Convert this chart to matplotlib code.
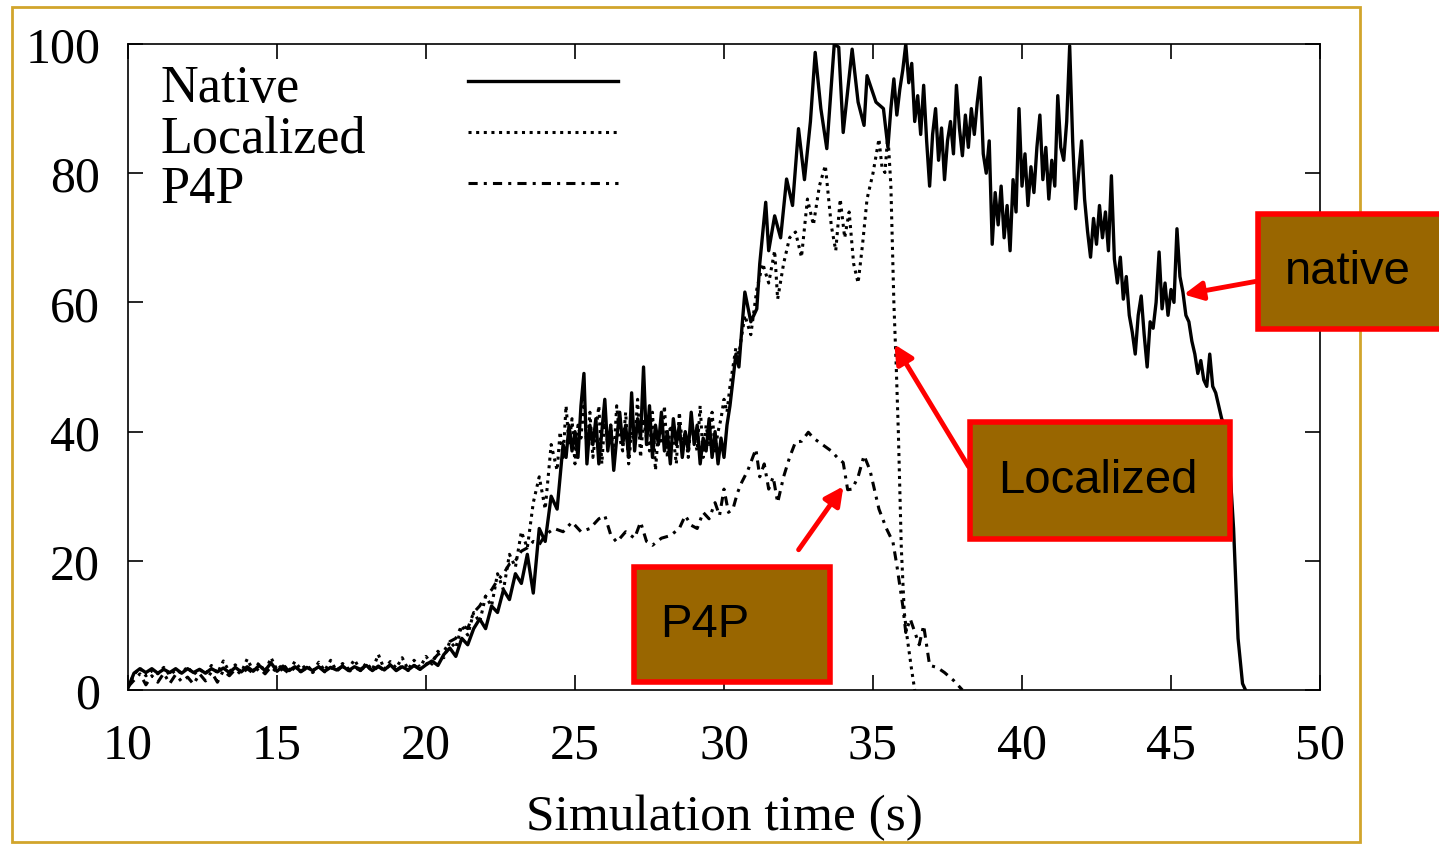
import numpy as np
import matplotlib.pyplot as plt
from matplotlib.patches import Rectangle, FancyArrowPatch

# -------------------------------
# Werte
# -------------------------------
# 10.0 .. 20.0 s, alle 0.2 s
native_flat = [0.3, 2.6, 3.3, 2.7, 3.3, 2.6, 3.2, 2.7, 3.3, 2.6, 3.3,
               2.7, 3.2, 2.6, 3.3, 2.8, 3.4, 2.7, 3.5, 2.8, 3.6,
               2.9, 3.8, 3.0, 4.2, 2.9, 3.7, 3.0, 3.6, 2.9, 3.5,
               3.0, 3.6, 2.9, 3.5, 3.1, 3.7, 3.0, 3.6, 3.2, 3.8,
               3.0, 3.7, 3.1, 3.9, 3.0, 3.6, 3.1, 3.8, 3.2, 3.9]
localized_flat = [0.5, 2.4, 3.4, 2.2, 3.0, 2.5, 3.5, 2.3, 3.1, 2.6, 3.6,
                  2.4, 3.2, 2.5, 3.8, 2.6, 4.5, 2.8, 3.9, 2.7, 4.8,
                  3.0, 4.2, 2.8, 5.0, 3.1, 4.0, 2.9, 4.4, 3.2, 3.9,
                  2.8, 4.3, 3.0, 4.6, 2.9, 4.1, 3.3, 4.7, 3.0, 4.2,
                  3.1, 5.5, 3.2, 4.4, 3.4, 5.0, 3.2, 4.6, 3.5, 5.2]
p4p_flat = [0.5, 1.5, 2.5, 0.8, 2.2, 1.2, 2.6, 1.0, 2.4, 1.3, 2.0,
            0.9, 2.5, 1.4, 2.8, 1.2, 3.0, 2.2, 3.2, 2.4, 3.3,
            2.6, 3.4, 2.5, 3.6, 2.7, 3.3, 2.6, 3.5, 2.8, 3.4,
            2.7, 3.6, 2.8, 3.5, 2.9, 3.7, 2.8, 3.5, 3.0, 3.8,
            2.9, 3.6, 3.0, 3.9, 3.1, 3.7, 3.0, 3.8, 3.2, 4.0]

# Anstieg ab 20.2 s, alle 0.2 s
native_ramp = [4.5, 3.8, 5.5, 6.5, 5.2, 8.0, 7.0, 9.5, 11.0, 9.5, 13.0,
               12.0, 15.5, 14.0, 18.0, 16.5, 21.0, 15.0, 25.0, 23.0, 30.0, 28.0]
localized_ramp = [4.0, 6.0, 5.0, 7.5, 6.5, 10.0, 8.5, 12.0, 10.5, 14.5, 13.0,
                  18.0, 15.5, 21.0, 19.0, 24.5, 22.0, 29.0, 33.0, 28.0, 38.0, 34.0]
p4p_ramp = [4.5, 5.5, 6.0, 7.5, 8.0, 10.0, 9.5, 12.0, 13.0, 14.5,
            15.5, 17.0, 18.0, 19.5, 20.0, 21.5, 22.0, 23.0, 22.5, 24.0]

# Plateau 24.5 .. 30.4 s, alle 0.1 s
native_plateau = [33, 38, 36, 41, 37, 40, 36, 44, 49, 35,
                  41, 38, 42, 35, 40, 45, 37, 41, 34, 39,
                  43, 38, 41, 36, 46, 37, 42, 39, 50, 38,
                  44, 36, 41, 38, 43, 37, 40, 35, 42, 38,
                  41, 36, 40, 37, 43, 38, 41, 35, 39, 37,
                  42, 36, 40, 35, 39, 36, 41, 44, 48, 52]
localized_plateau = [40, 36, 44, 38, 42, 35, 41, 39, 45, 37,
                     43, 36, 40, 44, 35, 42, 38, 41, 36, 44,
                     39, 37, 43, 35, 40, 38, 45, 36, 42, 39,
                     37, 43, 34, 40, 38, 44, 36, 41, 39, 35,
                     43, 38, 40, 36, 42, 39, 37, 44, 36, 41,
                     38, 43, 37, 40, 42, 45, 43, 47, 50, 53]

# Native: Spitze 30.5 .. 35.35 s (unregelmaessig)
native_peak_t = [30.5, 30.6, 30.7, 30.9, 31.1, 31.2, 31.4, 31.5, 31.7, 31.9,
                 32.1, 32.3, 32.5, 32.7, 32.9, 33.06, 33.25, 33.45, 33.7, 33.85,
                 34.0, 34.3, 34.5, 34.7, 34.8, 35.1, 35.35]
native_peak_v = [50, 56, 61.6, 57, 59, 66, 75.5, 68, 73.4, 70,
                 79.1, 75, 86.9, 79, 88, 98.7, 90, 83.8, 100, 99.5,
                 86.3, 99.2, 91, 87.4, 95.1, 91, 90]
# Native: Abfall 35.5 .. 46.9 s, alle 0.1 s
native_decay = [84, 90, 94.6, 89, 93, 96, 100, 94, 97, 88,
                92, 86, 93.6, 85, 78, 86, 90, 82, 87, 79,
                85, 88, 83, 93.6, 87, 82.7, 89, 84, 90, 86,
                91, 94.8, 83, 80, 85, 69, 77, 72, 78, 70,
                75, 68, 79, 74, 90, 78, 83, 75, 81, 77,
                84, 89, 79, 84, 76, 82, 78, 92, 84, 82,
                88, 99.7, 85, 74.5, 80, 85, 76, 71, 67, 73,
                69, 75, 70, 74, 68, 79.6, 66.7, 63, 67, 60.5,
                64, 58, 55.4, 52, 58, 61, 55, 50, 57, 56,
                60, 67.8, 59, 63, 58, 62, 60, 71.4, 64, 61.6,
                58, 57, 54, 52, 49, 51, 48, 47, 52, 47,
                46, 44, 42, 41, 40]
native_end_t = [47.1, 47.25, 47.4, 47.5]
native_end_v = [25, 8, 1, 0]

localized_tail_t = [30.5, 30.7, 30.9, 31.1, 31.3, 31.5, 31.7, 31.8, 32.0, 32.2,
                    32.4, 32.6, 32.8, 33.0, 33.2, 33.4, 33.6, 33.75, 33.9, 34.05,
                    34.2, 34.35, 34.5, 34.65, 34.8, 35.0, 35.2, 35.3, 35.4, 35.5,
                    35.6, 35.7, 35.78, 35.85, 35.95, 36.05, 36.15, 36.3, 36.4]
localized_tail_v = [52, 58, 55, 62, 66, 63, 68, 60.5, 66, 70,
                    70.9, 67, 76, 72, 78, 81.2, 71.9, 68, 76, 70,
                    74, 66, 63, 69, 76, 80, 85.3, 81, 80.1, 86,
                    78, 60, 50, 40, 22, 12, 8, 3, 0]
p4p_tail_t = [24.3, 24.6, 24.9, 25.2, 25.5, 25.8, 26.0, 26.2, 26.4, 26.7,
              27.0, 27.2, 27.4, 27.6, 27.9, 28.2, 28.5, 28.7, 28.9, 29.1,
              29.3, 29.5, 29.7, 29.85, 30.0, 30.15, 30.3, 30.45, 30.6, 30.8,
              31.07, 31.2, 31.35, 31.5, 31.65, 31.8, 32.0, 32.2, 32.4, 32.6,
              32.83, 33.0, 33.3, 33.6, 33.8, 34.0, 34.15, 34.3, 34.5, 34.7,
              34.9, 35.2, 35.45, 35.67, 35.8, 36.0, 36.1, 36.25, 36.4, 36.55,
              36.7, 36.9, 37.15, 37.4, 37.7, 38.0]
p4p_tail_v = [25, 24.5, 26, 24.5, 25, 26.5, 27, 24, 22.9, 24.5,
              23.5, 26, 23, 22.4, 23.5, 23.9, 25, 27, 25.5, 25,
              27.5, 26.5, 29, 27, 31.1, 27.5, 28, 30.5, 32.2, 34,
              37.3, 33, 35, 31.1, 33, 29, 33, 36, 38.4, 38.5,
              39.9, 39, 38, 37, 36, 35.2, 31, 31.1, 33, 36.3,
              34, 28, 25, 22.9, 19.3, 13, 8.9, 11, 9, 7,
              10, 3.8, 3.5, 2.7, 1.5, 0]

labels = ["Native", "Localized", "P4P"]
x_ticks = [10, 15, 20, 25, 30, 35, 40, 45, 50]
y_ticks = [0, 20, 40, 60, 80, 100]


def stitch(parts):
    # parts: (start, step, values) oder (times, values)
    t_all, v_all = [], []
    for p in parts:
        if len(p) == 3:
            start, step, vals = p
            t_all += list(start + step * np.arange(len(vals)))
            v_all += list(vals)
        else:
            t_all += list(p[0])
            v_all += list(p[1])
    return np.array(t_all), np.array(v_all)


native_t, native_v = stitch([(10.0, 0.2, native_flat), (20.2, 0.2, native_ramp),
                             (24.5, 0.1, native_plateau), (native_peak_t, native_peak_v),
                             (35.5, 0.1, native_decay), (native_end_t, native_end_v)])
loc_t, loc_v = stitch([(10.0, 0.2, localized_flat), (20.2, 0.2, localized_ramp),
                       (24.5, 0.1, localized_plateau), (localized_tail_t, localized_tail_v)])
p4p_t, p4p_v = stitch([(10.0, 0.2, p4p_flat), (20.2, 0.2, p4p_ramp),
                       (p4p_tail_t, p4p_tail_v)])

plt.rcParams['font.family'] = ['Liberation Serif', 'DejaVu Serif']

W, H = 1439, 845
fig = plt.figure(figsize=(W / 100, H / 100), dpi=100)
ax = fig.add_axes([128 / W, 1 - 691 / H, (1320 - 128) / W, (691 - 45) / H])

styles = [dict(lw=2.4, linestyle='-'),
          dict(lw=2.2, linestyle=(0, (1, 1.5))),
          dict(lw=2.2, linestyle=(0, (3, 2, 1, 2)))]
for (t, v), st in zip([(native_t, native_v), (loc_t, loc_v), (p4p_t, p4p_v)], styles):
    ax.plot(t, v, color='black', **st)

ax.set_xlim(10, 50)
ax.set_ylim(0, 100)
ax.set_xticks(x_ticks)
ax.set_yticks(y_ticks)
ax.tick_params(direction='in', length=11, width=1.2, top=True, right=True, labelsize=36)
ax.tick_params(axis='x', pad=23)
ax.tick_params(axis='y', pad=20)
for s in ax.spines.values():
    s.set_linewidth(1.2)
ax.set_xlabel("Simulation time (s)", fontsize=37, labelpad=18)

# Legende: Text links, Linienmuster rechts (wie gnuplot)
leg_rows = [0.912, 0.834, 0.755]
for lab, yb, st in zip(labels, leg_rows, styles):
    ax.text(0.027, yb, lab, transform=ax.transAxes, fontsize=37.5,
            ha='left', va='baseline')
    ax.plot([0.285, 0.411], [yb + 0.03, yb + 0.03], transform=ax.transAxes,
            color='black', **st)


# -------------------------------
# Rahmen und Hinweis-Kaesten
# -------------------------------
def fx(x):
    return x / W


def fy(y):
    return 1 - y / H


fig.add_artist(Rectangle((fx(12), fy(843)), fx(1360) - fx(12), fy(8) - fy(843),
                         transform=fig.transFigure, fill=False,
                         edgecolor='#d1a52c', lw=2))

boxes = [("native", 1258, 215, 1445, 330, 1285, 'left'),
         ("Localized", 970, 423, 1230, 540, 1098, 'center'),
         ("P4P", 634, 568, 830, 683, 660, 'left')]
for txt, x0, y0, x1, y1, tx, ha in boxes:
    fig.add_artist(Rectangle((fx(x0), fy(y1)), fx(x1) - fx(x0), fy(y0) - fy(y1),
                             transform=fig.transFigure, facecolor='#996600',
                             edgecolor='#ff0000', lw=4, clip_on=False))
    fig.text(fx(tx), fy((y0 + y1) / 2), txt, ha=ha, va='center',
             fontsize=34, family=['Liberation Sans', 'DejaVu Sans'], color='black')

arrows = [((1258, 282), (1181, 296)),
          ((970, 470), (893, 343)),
          ((797, 553), (845, 485))]
for (xa, ya), (xb, yb) in arrows:
    fig.add_artist(FancyArrowPatch((fx(xa), fy(ya)), (fx(xb), fy(yb)),
                                   transform=fig.transFigure, arrowstyle='-|>',
                                   mutation_scale=28, lw=3.5, color='#ff0000'))

fig.savefig("out.png", dpi=100)
